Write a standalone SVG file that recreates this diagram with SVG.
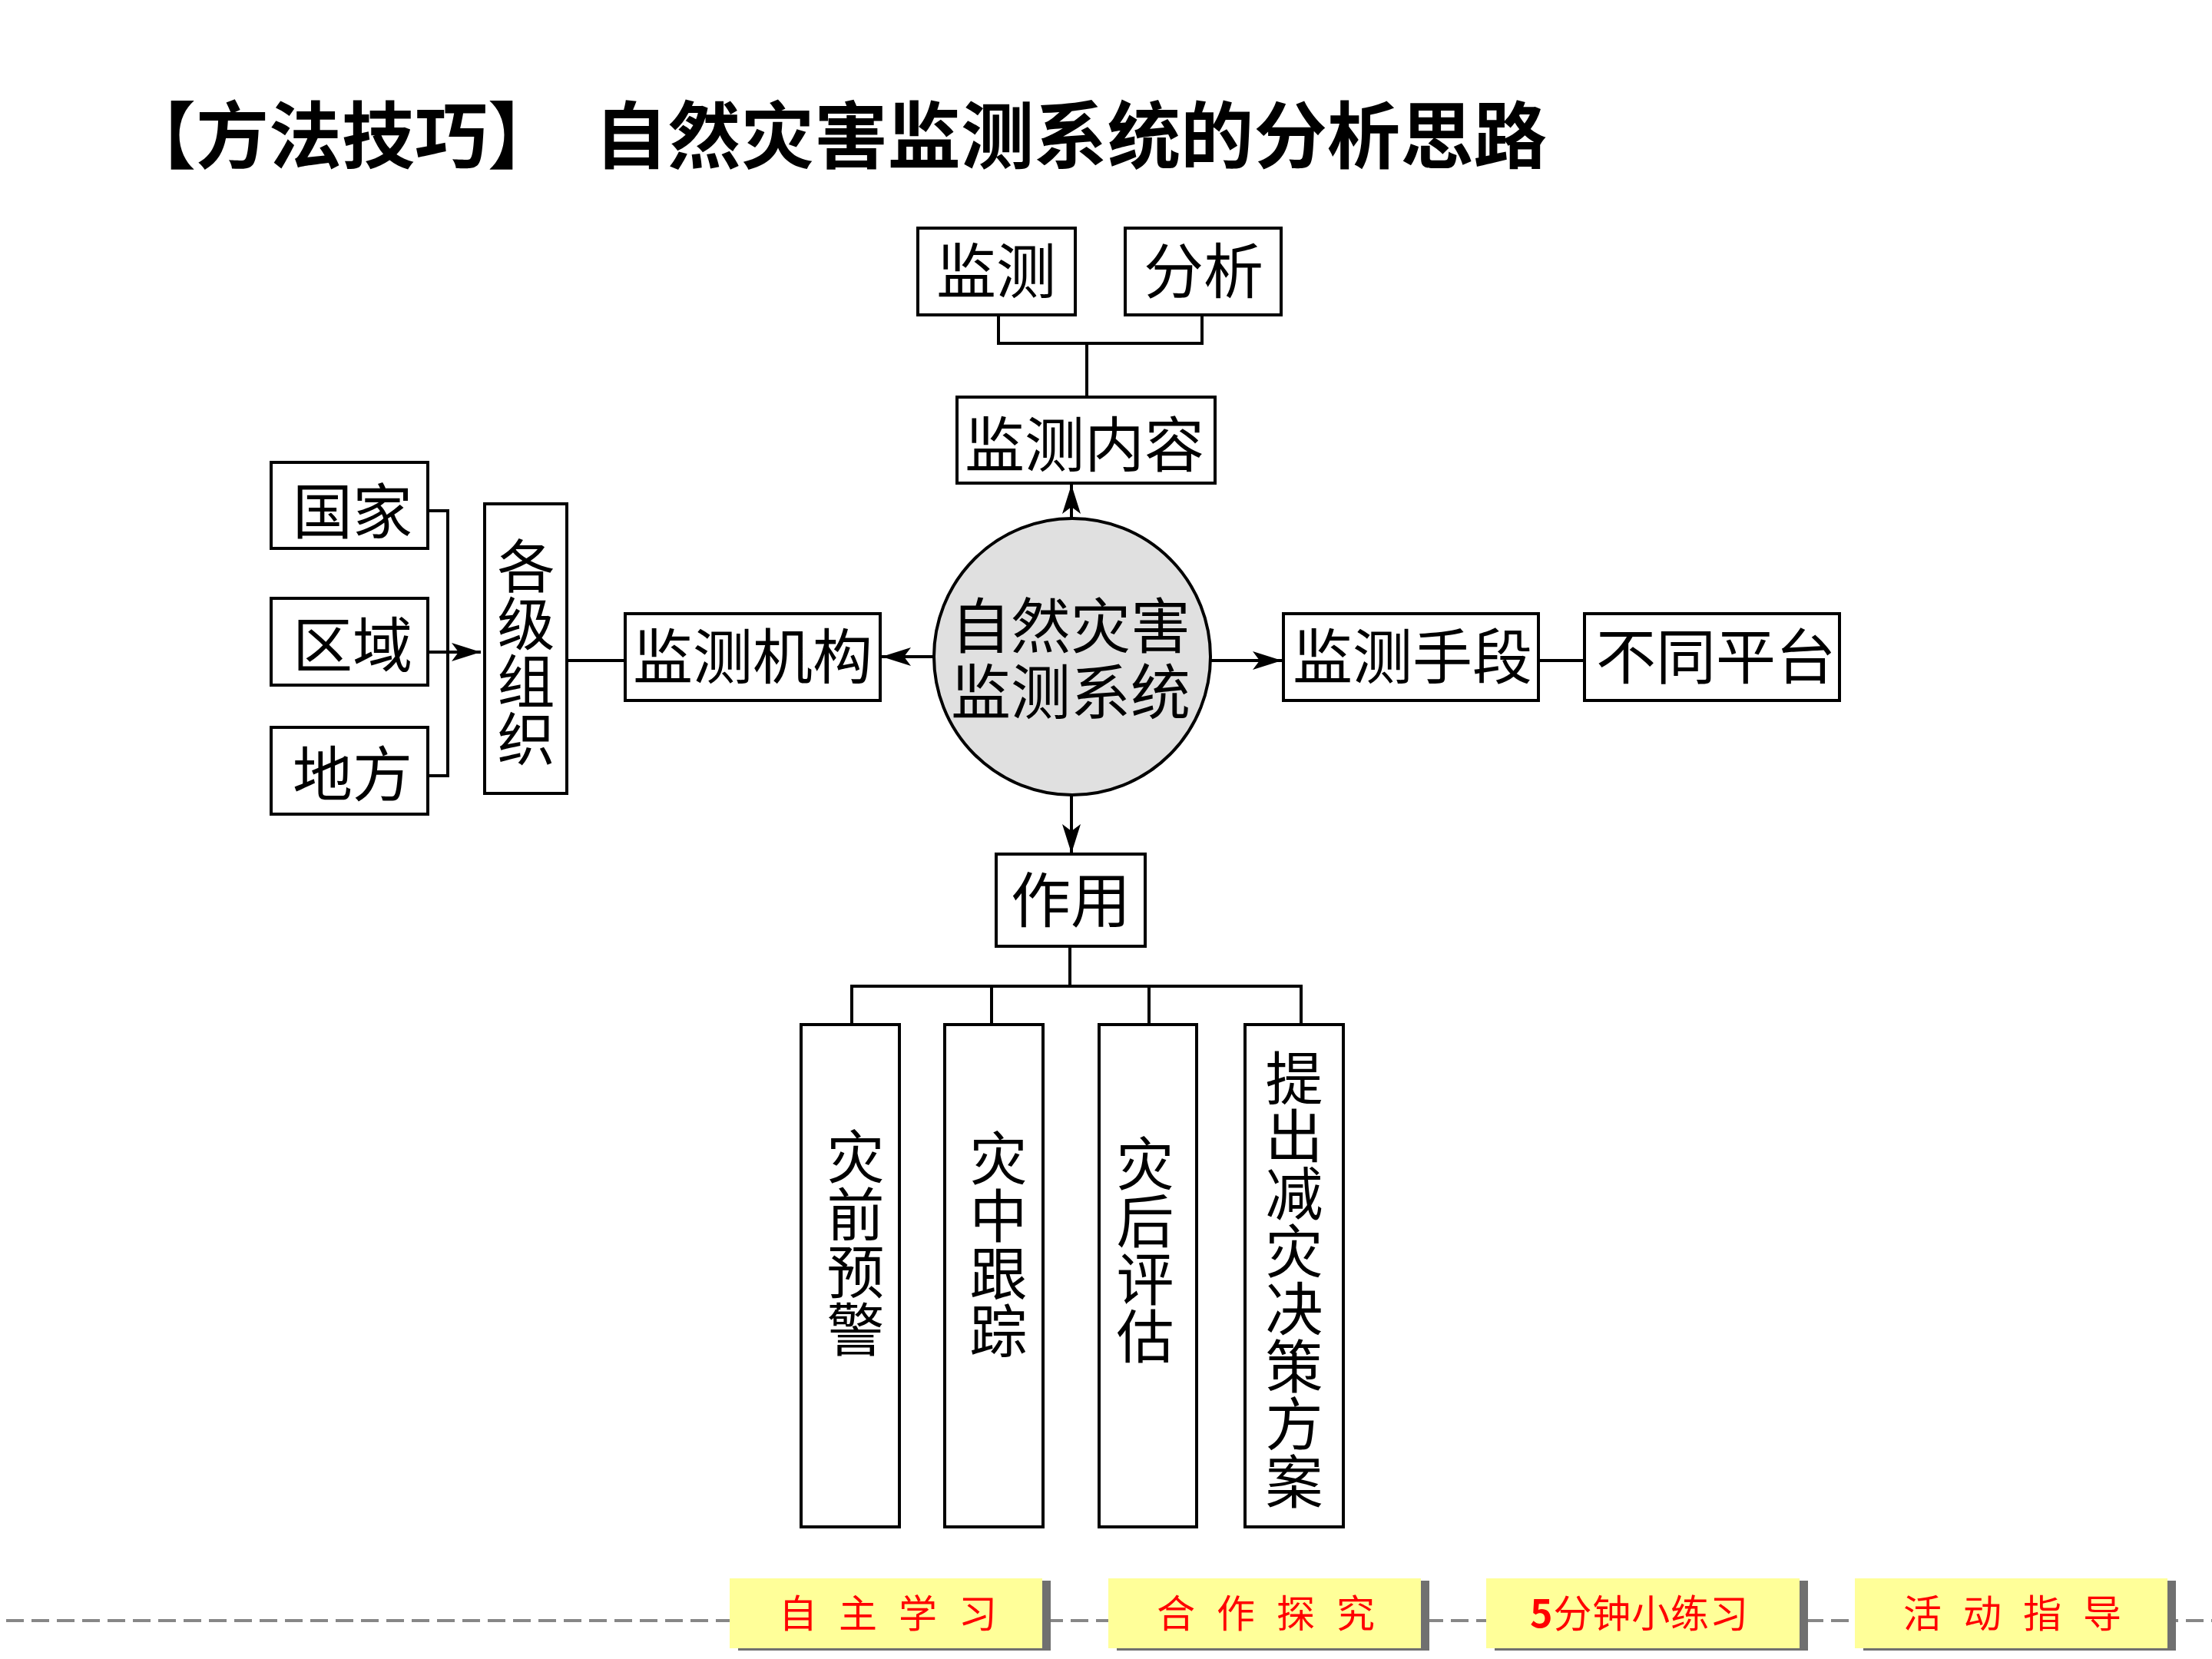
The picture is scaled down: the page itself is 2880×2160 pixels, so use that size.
<svg xmlns="http://www.w3.org/2000/svg" width="2880" height="2160" viewBox="0 0 2880 2160">
<defs>
<style>
.box{fill:#fff;stroke:#000;stroke-width:4}
.t{font-family:"Noto Sans CJK SC","Noto Sans CJK TC",sans-serif;font-size:78px;fill:#000;text-anchor:middle}
.v{font-family:"Noto Sans CJK SC","Noto Sans CJK TC",sans-serif;font-size:75px;fill:#000;text-anchor:middle;writing-mode:vertical-rl}
.ln{fill:none;stroke:#000;stroke-width:4}
.nav{fill:#ffff99}
.sh{fill:#707070}
.nt{font-family:"Noto Sans CJK SC",sans-serif;font-size:50px;fill:#ff0000;text-anchor:middle}
</style>
<marker id="ah" markerUnits="userSpaceOnUse" markerWidth="42" markerHeight="30" refX="38" refY="15" orient="auto" overflow="visible">
<path d="M0,3 L38,15 L0,27 L9,15 Z" fill="#000"/>
</marker>
</defs>
<rect width="2880" height="2160" fill="#fff"/>

<g id="title">
<text x="160" y="212" font-family="Noto Sans CJK SC,sans-serif" font-size="95" font-weight="bold" textLength="570" lengthAdjust="spacingAndGlyphs">【方法技巧】</text>
<text x="774" y="212" font-family="Noto Sans CJK SC,sans-serif" font-size="95" font-weight="bold" textLength="1240" lengthAdjust="spacingAndGlyphs">自然灾害监测系统的分析思路</text>
</g>

<g id="connectors">
<polyline class="ln" points="1300,410 1300,447 1565,447 1565,410"/>
<line class="ln" x1="1415" y1="447" x2="1415" y2="517"/>
<line class="ln" x1="1395" y1="676" x2="1395" y2="631" marker-end="url(#ah)"/>
<line class="ln" x1="1216" y1="855" x2="1148" y2="855" marker-end="url(#ah)"/>
<line class="ln" x1="1576" y1="860" x2="1669" y2="860" marker-end="url(#ah)"/>
<line class="ln" x1="1395" y1="1035" x2="1395" y2="1111" marker-end="url(#ah)"/>
<line class="ln" x1="2003" y1="860" x2="2063" y2="860"/>
<line class="ln" x1="738" y1="860" x2="814" y2="860"/>
<polyline class="ln" points="557,665 583,665 583,1010 557,1010"/>
<line class="ln" x1="557" y1="849" x2="626" y2="849" marker-end="url(#ah)"/>
<line class="ln" x1="1393" y1="1232" x2="1393" y2="1284"/>
<line class="ln" x1="1107" y1="1284" x2="1696" y2="1284"/>
<line class="ln" x1="1109" y1="1284" x2="1109" y2="1334"/>
<line class="ln" x1="1291" y1="1284" x2="1291" y2="1334"/>
<line class="ln" x1="1496" y1="1284" x2="1496" y2="1334"/>
<line class="ln" x1="1694" y1="1284" x2="1694" y2="1334"/>
</g>

<g id="n-jiance">
<rect class="box" x="1195" y="297" width="205" height="113"/>
<text class="t" x="1297" y="382">监测</text>
</g>
<g id="n-fenxi">
<rect class="box" x="1465" y="297" width="203" height="113"/>
<text class="t" x="1567" y="382">分析</text>
</g>
<g id="n-neirong">
<rect class="box" x="1246" y="517" width="336" height="112"/>
<text class="t" x="1412" y="608">监测内容</text>
</g>
<g id="n-center">
<circle cx="1396" cy="855" r="180" fill="#e0e0e0" stroke="#000" stroke-width="4"/>
<text class="t" font-size="76"><tspan x="1394" y="844">自然灾害</tspan><tspan x="1394" y="930">监测系统</tspan></text>
</g>
<g id="n-guojia">
<rect class="box" x="353" y="602" width="204" height="112"/>
<text class="t" x="459" y="695">国家</text>
</g>
<g id="n-quyu">
<rect class="box" x="353" y="779" width="204" height="113"/>
<text class="t" x="459" y="869">区域</text>
</g>
<g id="n-difang">
<rect class="box" x="353" y="947" width="204" height="113"/>
<text class="t" x="459" y="1037">地方</text>
</g>
<g id="n-geji">
<rect class="box" x="631" y="656" width="107" height="377"/>
<text class="v" x="685" y="849">各级组织</text>
</g>
<g id="n-jigou">
<rect class="box" x="814" y="799" width="332" height="113"/>
<text class="t" x="980" y="884">监测机构</text>
</g>
<g id="n-shouduan">
<rect class="box" x="1671" y="799" width="332" height="113"/>
<text class="t" x="1839" y="884">监测手段</text>
</g>
<g id="n-pingtai">
<rect class="box" x="2063" y="799" width="332" height="113"/>
<text class="t" x="2234" y="884">不同平台</text>
</g>
<g id="n-zuoyong">
<rect class="box" x="1297" y="1112" width="194" height="120"/>
<text class="t" x="1394" y="1201">作用</text>
</g>
<g id="n-zaiqian">
<rect class="box" x="1043" y="1334" width="128" height="654"/>
<text class="v" x="1114" y="1618">灾前预警</text>
</g>
<g id="n-zaizhong">
<rect class="box" x="1230" y="1334" width="128" height="654"/>
<text class="v" x="1300" y="1620">灾中跟踪</text>
</g>
<g id="n-zaihou">
<rect class="box" x="1431" y="1334" width="127" height="654"/>
<text class="v" x="1491" y="1627">灾后评估</text>
</g>
<g id="n-tichu">
<rect class="box" x="1621" y="1334" width="128" height="654"/>
<text class="v" x="1685" y="1666" font-size="76">提出减灾决策方案</text>
</g>

<g id="nav">
<line x1="8" y1="2110" x2="2880" y2="2110" stroke="#878787" stroke-width="4" stroke-dasharray="23 10"/>
<g id="nav1">
<rect class="sh" x="961" y="2058" width="407" height="91"/>
<rect class="nav" x="950" y="2055" width="407" height="91"/>
<text class="nt" x="1156" y="2119" textLength="284" lengthAdjust="spacing">自 主 学 习</text>
</g>
<g id="nav2">
<rect class="sh" x="1454" y="2058" width="407" height="91"/>
<rect class="nav" x="1443" y="2055" width="407" height="91"/>
<text class="nt" x="1648" y="2119" textLength="284" lengthAdjust="spacing">合 作 探 究</text>
</g>
<g id="nav3">
<rect class="sh" x="1946" y="2058" width="408" height="91"/>
<rect class="nav" x="1935" y="2055" width="408" height="91"/>
<text class="nt" x="2134" y="2119" textLength="284" lengthAdjust="spacing"><tspan font-weight="bold">5</tspan>分钟小练习</text>
</g>
<g id="nav4">
<rect class="sh" x="2426" y="2058" width="407" height="91"/>
<rect class="nav" x="2415" y="2055" width="407" height="91"/>
<text class="nt" x="2620" y="2119" textLength="284" lengthAdjust="spacing">活 动 指 导</text>
</g>
</g>
</svg>
